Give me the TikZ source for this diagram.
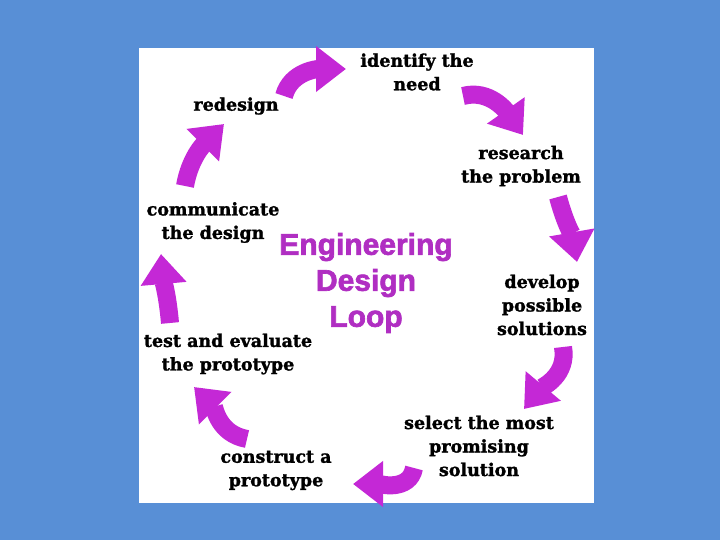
\documentclass[tikz,border=0pt]{standalone}
\usepackage{fontspec}
\setmainfont{DejaVu Serif}
\newfontfamily\lblfont[FakeBold=1.5]{DejaVu Serif Bold}
\newfontfamily\titlefont[FakeBold=2.2]{Liberation Sans Bold}
\usetikzlibrary{arrows.meta}
\definecolor{bgblue}{RGB}{88,143,214}
\definecolor{arrowpurple}{RGB}{196,40,214}
\definecolor{titlepurple}{RGB}{176,46,194}
\begin{document}
\begin{tikzpicture}[x=1pt,y=1pt,
  lbl/.style={font=\lblfont\fontsize{17.5}{23.5}\selectfont, align=center, text=black, inner sep=0pt},
  titletext/.style={font=\titlefont\fontsize{30}{36}\selectfont, align=center, text=titlepurple, inner sep=0pt},
  bigarrow/.style={draw=arrowpurple, line width=18pt, -{Triangle[width=44pt,length=30pt]}}]
\fill[bgblue] (0,0) rectangle (720,540);
\fill[white] (139,37) rectangle (594,492);
\useasboundingbox (0,0) rectangle (720,540);

\node[lbl] (identify) at (417,468) {identify the\\need};
\node[lbl] (research) at (521,374) {research\\the problem};
\node[lbl] (develop) at (542,235) {develop\\possible\\solutions};
\node[lbl] (select) at (479,94) {select the most\\promising\\solution};
\node[lbl] (construct) at (276,69.5) {construct a\\prototype};
\node[lbl] (test) at (228,186) {test and evaluate\\the prototype};
\node[lbl] (communicate) at (213,317.5) {communicate\\the design};
\node[lbl] (redesign) at (236,434) {redesign};
\node[titletext] (title) at (366,257) {Engineering\\Design\\Loop};

\coordinate (a1s) at (284,444); \coordinate (a1e) at (346,471);
\coordinate (a2s) at (463,444); \coordinate (a2e) at (523,405);
\coordinate (a3s) at (558,343); \coordinate (a3e) at (577,278);
\coordinate (a4s) at (563,193); \coordinate (a4e) at (524,131);
\coordinate (a5s) at (414,72);  \coordinate (a5e) at (353,56);
\coordinate (a6s) at (247,101); \coordinate (a6e) at (194,153);
\coordinate (a7s) at (170,217); \coordinate (a7e) at (161,286);
\coordinate (a8s) at (185,354); \coordinate (a8e) at (224,416);

\draw[bigarrow] (a1s) to[out=75,in=180] (a1e);
\draw[bigarrow] (a2s) to[out=15,in=125] (a2e);
\draw[bigarrow] (a3s) to[out=-75,in=100] (a3e);
\draw[bigarrow] (a4s) to[out=-80,in=50] (a4e);
\draw[bigarrow] (a5s) to[out=-100,in=0] (a5e);
\draw[bigarrow] (a6s) to[out=170,in=-45] (a6e);
\draw[bigarrow] (a7s) to[out=95,in=-85] (a7e);
\draw[bigarrow] (a8s) to[out=80,in=-135] (a8e);
\end{tikzpicture}
\end{document}
